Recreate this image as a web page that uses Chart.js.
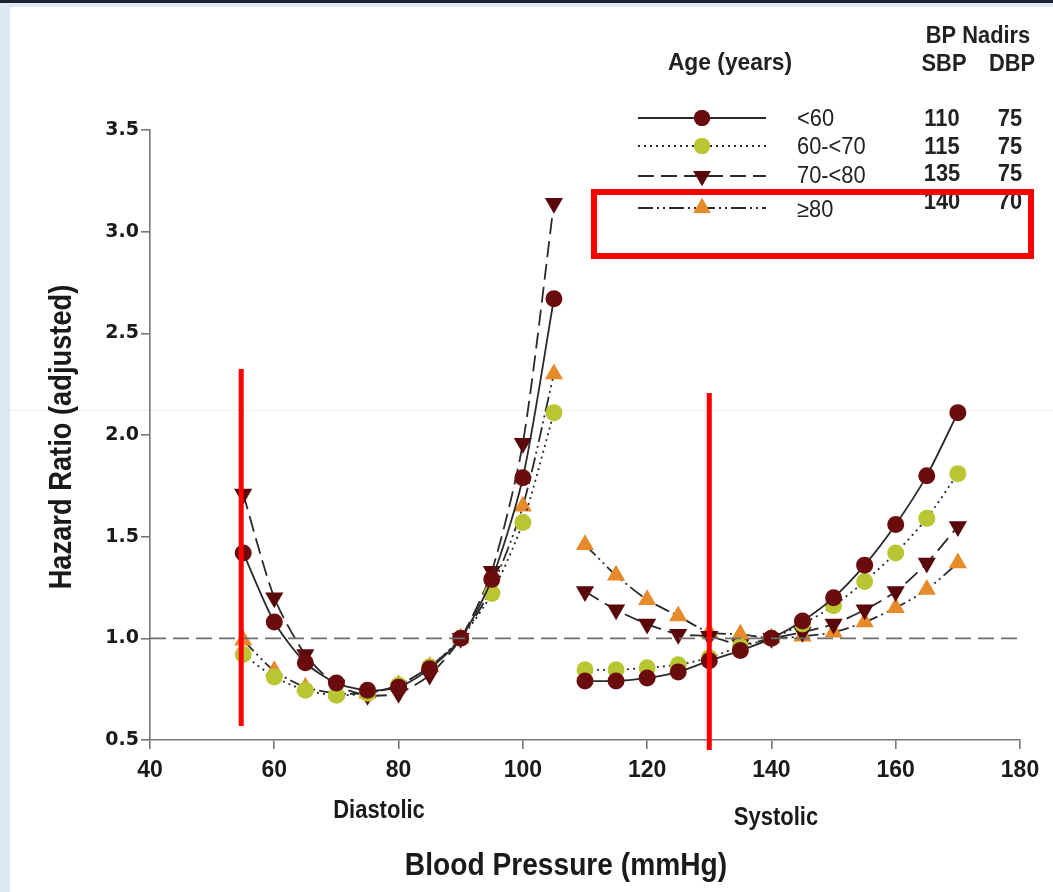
<!DOCTYPE html>
<html>
<head>
<meta charset="utf-8">
<script src="https://cdn.jsdelivr.net/npm/chart.js@4.4.1/dist/chart.umd.min.js"></script>
<style>
  html, body { margin: 0; padding: 0; background: #fff; }
  #wrap { position: relative; width: 1053px; height: 892px; }
</style>
</head>
<body>
<div id="wrap"><canvas id="chart" width="1053" height="892"></canvas></div>
<script>
// x values (mmHg) for the two halves of the plot
const diastolicBP = [55, 60, 65, 70, 75, 80, 85, 90, 95, 100, 105];
const systolicBP = [110, 115, 120, 125, 130, 135, 140, 145, 150, 155, 160, 165, 170];

// hazard ratios
const under60Dia = [1.42, 1.08, 0.88, 0.78, 0.745, 0.76, 0.85, 1.0, 1.29, 1.79, 2.67];
const under60Sys = [0.79, 0.79, 0.805, 0.835, 0.89, 0.94, 1.0, 1.085, 1.2, 1.36, 1.56, 1.8, 2.11];

const age60Dia = [0.92, 0.81, 0.745, 0.72, 0.73, 0.77, 0.86, 1.0, 1.22, 1.57, 2.11];
const age60Sys = [0.845, 0.845, 0.855, 0.87, 0.905, 0.96, 1.0, 1.07, 1.16, 1.28, 1.42, 1.59, 1.81];

const age70Dia = [1.71, 1.2, 0.92, 0.77, 0.72, 0.73, 0.82, 1.0, 1.33, 1.96, 3.14];
const age70Sys = [1.23, 1.14, 1.07, 1.02, 1.01, 0.97, 1.0, 1.03, 1.07, 1.14, 1.23, 1.37, 1.55];

const age80Dia = [0.99, 0.84, 0.76, 0.73, 0.73, 0.77, 0.86, 1.0, 1.25, 1.65, 2.3];
const age80Sys = [1.46, 1.31, 1.19, 1.11, 1.03, 1.02, 1.0, 1.01, 1.03, 1.08, 1.15, 1.24, 1.37];

const ageLabels = ["<60", "60-<70", "70-<80", "\u226580"];
const nadirSBP = [110, 115, 135, 140];
const nadirDBP = [75, 75, 75, 70];

const yTicks = [0.5, 1.0, 1.5, 2.0, 2.5, 3.0, 3.5];
const xTicks = [40, 60, 80, 100, 120, 140, 160, 180];

// join the two halves with a null so the line breaks between them
function joined(dia, sys) {
  const pts = diastolicBP.map((x, i) => ({ x: x, y: dia[i] }));
  pts.push({ x: 107.5, y: null });
  systolicBP.forEach((x, i) => pts.push({ x: x, y: sys[i] }));
  return pts;
}

const styles = [
  { color: "#6a0b0d", dash: [], style: "circle", rot: 0, r: 8.5 },
  { color: "#b9c531", dash: [2, 4], style: "circle", rot: 0, r: 8.5 },
  { color: "#5a0709", dash: [16, 7], style: "triangle", rot: 180, r: 10.5 },
  { color: "#e68a2a", dash: [15, 4, 2, 4, 2, 4], style: "triangle", rot: 0, r: 10.5 }
];
const series = [
  joined(under60Dia, under60Sys),
  joined(age60Dia, age60Sys),
  joined(age70Dia, age70Sys),
  joined(age80Dia, age80Sys)
];

const datasets = series.map((d, i) => ({
  label: ageLabels[i],
  data: d,
  borderColor: "#2a2a2a",
  borderWidth: 1.8,
  borderDash: styles[i].dash,
  pointStyle: styles[i].style,
  pointRotation: styles[i].rot,
  pointRadius: styles[i].r,
  pointBackgroundColor: styles[i].color,
  pointBorderColor: styles[i].color,
  pointBorderWidth: 0,
  tension: 0.25,
  spanGaps: false
}));

// reference line at HR = 1
datasets.unshift({
  data: [{ x: 40, y: 1 }, { x: 180, y: 1 }],
  borderColor: "#6e6e6e",
  borderWidth: 1.6,
  borderDash: [16, 7],
  pointRadius: 0
});

// condensed text helper
function txt(c, s, x, y, font, sx, rot, align) {
  c.save();
  c.translate(x, y);
  if (rot) c.rotate(rot);
  c.scale(sx, 1);
  c.font = font;
  c.textAlign = align || "center";
  c.textBaseline = "middle";
  c.fillText(s, 0, 0);
  c.restore();
}

const extras = {
  id: "extras",
  beforeDraw(chart) {
    const c = chart.ctx;
    c.save();
    c.fillStyle = "#ffffff";
    c.fillRect(0, 0, 1053, 892);
    c.fillStyle = "#dde8f5";
    c.fillRect(0, 0, 10, 892);
    c.fillRect(0, 0, 1053, 7);
    c.fillStyle = "#1c2430";
    c.fillRect(0, 0, 1053, 3);
    // faint scan line
    c.fillStyle = "#eeeeee";
    c.fillRect(10, 410, 1043, 1);
    c.restore();
  },
  afterDraw(chart) {
    const c = chart.ctx;
    const xs = chart.scales.x;
    c.save();
    c.fillStyle = "#1a1a1a";
    // axis titles
    txt(c, "Blood Pressure (mmHg)", 566, 866, "bold 32px 'Liberation Sans'", 0.88);
    txt(c, "Diastolic", 379, 811, "bold 25px 'Liberation Sans'", 0.88);
    txt(c, "Systolic", 776, 818, "bold 25px 'Liberation Sans'", 0.88);
    txt(c, "Hazard Ratio (adjusted)", 62, 437, "bold 31px 'Liberation Sans'", 0.88, -Math.PI / 2);

    // legend table
    c.fillStyle = "#222";
    txt(c, "Age (years)", 730, 63, "bold 24px 'Liberation Sans'", 0.95);
    txt(c, "BP Nadirs", 978, 37, "bold 23px 'Liberation Sans'", 0.95);
    txt(c, "SBP", 944, 65, "bold 23px 'Liberation Sans'", 0.95);
    txt(c, "DBP", 1012, 65, "bold 23px 'Liberation Sans'", 0.95);
    const lineY = [118, 146, 176, 208];
    const textY = [120, 148, 177, 211];
    const numY = [120, 148, 175, 203];
    styles.forEach((s, i) => {
      const y = lineY[i];
      c.strokeStyle = "#2a2a2a";
      c.lineWidth = 1.8;
      c.setLineDash(s.dash);
      c.beginPath();
      c.moveTo(638, y);
      c.lineTo(766, y);
      c.stroke();
      c.setLineDash([]);
      c.fillStyle = s.color;
      c.strokeStyle = s.color;
      Chart.helpers.drawPoint(c, { pointStyle: s.style, rotation: s.rot, radius: s.style === "circle" ? 8 : 10, borderWidth: 0 }, 702, y);
      c.fill();
      c.fillStyle = "#222";
      txt(c, ageLabels[i], 797, textY[i], "23px 'Liberation Sans'", 0.95, 0, "left");
      txt(c, String(nadirSBP[i]), 942, numY[i], "bold 23px 'Liberation Sans'", 0.95);
      txt(c, String(nadirDBP[i]), 1010, numY[i], "bold 23px 'Liberation Sans'", 0.95);
    });

    // red annotations
    c.strokeStyle = "#ff0000";
    c.lineWidth = 5;
    c.beginPath();
    c.moveTo(xs.getPixelForValue(55) - 2, 369);
    c.lineTo(xs.getPixelForValue(55) - 2, 726);
    c.moveTo(xs.getPixelForValue(130), 393);
    c.lineTo(xs.getPixelForValue(130), 750);
    c.stroke();
    c.lineWidth = 6;
    c.strokeRect(594, 192, 437, 64);
    c.restore();
  }
};

new Chart(document.getElementById("chart"), {
  type: "line",
  data: { datasets: datasets },
  options: {
    responsive: false,
    animation: false,
    layout: { padding: { left: 0, right: 33, top: 130, bottom: 0 } },
    plugins: { legend: { display: false }, tooltip: { enabled: false } },
    scales: {
      x: {
        type: "linear",
        min: 40,
        max: 180,
        afterFit(s) { s.height = 152; },
        afterBuildTicks(s) { s.ticks = xTicks.map(v => ({ value: v })); },
        border: { color: "#777", width: 1.6 },
        grid: { drawOnChartArea: false, tickLength: 9, color: "#777", lineWidth: 1.6 },
        ticks: {
          color: "#1a1a1a",
          padding: 8,
          font: { family: "'Liberation Sans'", weight: "bold", size: 23 }
        }
      },
      y: {
        min: 0.5,
        max: 3.5,
        afterFit(s) { s.width = 150; },
        afterBuildTicks(s) { s.ticks = yTicks.map(v => ({ value: v })); },
        border: { color: "#777", width: 1.6 },
        grid: { drawOnChartArea: false, tickLength: 9, color: "#777", lineWidth: 1.6 },
        ticks: {
          color: "#1a1a1a",
          padding: 2,
          callback: v => v.toFixed(1),
          font: { family: "'DejaVu Sans'", weight: "bold", size: 19 }
        }
      }
    }
  },
  plugins: [extras]
});
</script>
</body>
</html>
